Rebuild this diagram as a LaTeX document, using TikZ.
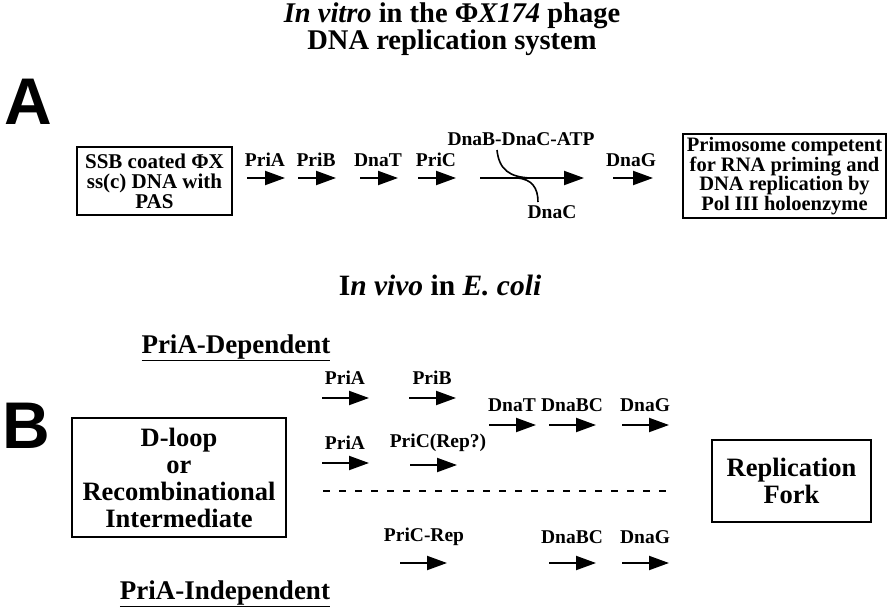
\documentclass[tikz,border=0pt]{standalone}
\usepackage{fontspec}
\setmainfont{Liberation Serif}
\newfontfamily\panelfont{Liberation Sans}
\usetikzlibrary{positioning,arrows.meta,calc}

\tikzset{
  lab/.style={font=\fontsize{19.5}{19.5}\selectfont\bfseries, inner sep=0pt},
  head/.style={font=\fontsize{27}{26}\selectfont\bfseries, inner sep=0pt, align=center},
  flow/.style={line width=2pt, -{Triangle[length=20pt,width=14pt]}},
  curve/.style={line width=1.6pt},
  box/.style={draw, line width=1.8pt, align=center, inner sep=0pt,
    font=\fontsize{21.5}{19.5}\selectfont\bfseries},
  bigbox/.style={box, font=\fontsize{26.5}{27}\selectfont\bfseries},
  panel/.style={font=\panelfont\fontsize{66}{66}\selectfont\bfseries, inner sep=0pt}
}

\begin{document}
\begin{tikzpicture}[x=1pt, y=-1pt]
        \useasboundingbox (0,0) rectangle (889,608);
        % Title
        \node[head, font=\fontsize{28.5}{26}\selectfont\bfseries] (title) at (452,29)
          {\textit{In vitro} in the Φ\textit{X174} phage\\DNA replication system};
        % Panel A
        \node[panel] (pA) at (28,102) {A};
        \node[box, minimum width=155pt, minimum height=68pt,
          font=\fontsize{21}{20}\selectfont\bfseries] (ssb) at (154.5,181)
          {SSB coated ΦX\\ss(c) DNA with\\PAS};
        \foreach \n/\x/\t in {apa/265/PriA, apb/316/PriB, adt/378/DnaT, apc/436/PriC}{
          \node[lab] (\n) at (\x,160) {\t};
          \coordinate (\n-s) at (\x-18,178);
          \coordinate (\n-e) at (\x+20,178);
          \draw[flow] (\n-s) -- (\n-e);
        }
        % Loading of DnaB by DnaC
        \node[lab] (atp) at (521,139) {DnaB-DnaC-ATP};
        \node[lab] (dnac) at (552,212) {DnaC};
        \coordinate (load-s) at (480,178);
        \coordinate (load-e) at (584,178);
        \draw[flow] (load-s) -- (load-e);
        \coordinate (atp-in) at (497,150);
        \coordinate (atp-join) at (530,178);
        \coordinate (c-out) at (517,178);
        \coordinate (c-end) at (538,202);
        \draw[curve] (atp-in) .. controls (499,170) and (510,177) .. (atp-join);
        \draw[curve] (c-out) .. controls (532,179) and (538,188) .. (c-end);
        \node[lab] (adg) at (631,160) {DnaG};
        \coordinate (adg-s) at (613,178);
        \coordinate (adg-e) at (653,178);
        \draw[flow] (adg-s) -- (adg-e);
        \node[box, minimum width=203pt, minimum height=84pt,
          font=\fontsize{20.5}{19.5}\selectfont\bfseries] (prim) at (784.5,176)
          {Primosome competent\\for RNA priming and\\DNA replication by\\Pol III holoenzyme};
        % In vivo heading
        \node[head, font=\fontsize{29.5}{26}\selectfont\bfseries] (vivo) at (440,285)
          {I\textit{n vivo} in \textit{E. coli}};
        % Panel B
        \node[panel] (pB) at (26,426) {B};
        \node[head] (dep) at (236,348) {\underline{PriA-Dependent}};
        \node[head] (indep) at (225,594) {\underline{PriA-Independent}};
        \node[bigbox, minimum width=214pt, minimum height=119pt] (dloop) at (179,477.5)
          {D-loop\\or\\Recombinational\\Intermediate};
        \node[bigbox, minimum width=159pt, minimum height=82pt] (fork) at (791.5,481)
          {Replication\\Fork};
        % PriA-dependent steps
        \foreach \n/\x/\y/\t in {bpa/345/378/PriA, bpb/432/378/PriB,
            bpa2/345/443/PriA, bdt/512/405/DnaT, bbc/572/405/DnaBC, bdg/645/405/DnaG}{
          \node[lab] (\n) at (\x,\y) {\t};
          \coordinate (\n-s) at (\x-23,\y+20);
          \coordinate (\n-e) at (\x+24,\y+20);
          \draw[flow] (\n-s) -- (\n-e);
        }
        \node[lab] (bpc) at (438,443) {PriC(Rep?)};
        \coordinate (bpc-s) at (410,465);
        \coordinate (bpc-e) at (457,465);
        \draw[flow] (bpc-s) -- (bpc-e);
        % Divider
        \coordinate (div-s) at (323,491);
        \coordinate (div-e) at (672,491);
        \draw[line width=1.6pt, dash pattern=on 7pt off 9pt] (div-s) -- (div-e);
        % PriA-independent steps
        \node[lab] (brep) at (424,537) {PriC-Rep};
        \foreach \n/\x/\t in {cbc/572/DnaBC, cdg/645/DnaG}{
          \node[lab] (\n) at (\x,537) {\t};
          \coordinate (\n-s) at (\x-23,563);
          \coordinate (\n-e) at (\x+24,563);
          \draw[flow] (\n-s) -- (\n-e);
        }
        \coordinate (brep-s) at (400,563);
        \coordinate (brep-e) at (447,563);
        \draw[flow] (brep-s) -- (brep-e);
      \end{tikzpicture}
\end{document}
